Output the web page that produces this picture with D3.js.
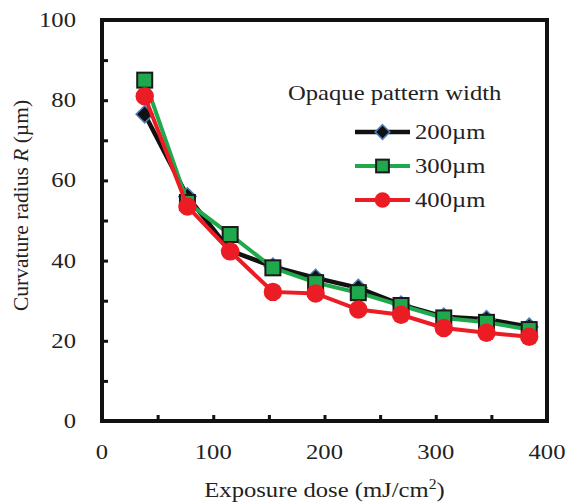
<!DOCTYPE html>
<html>
<head>
<meta charset="utf-8">
<script src="https://cdn.jsdelivr.net/npm/d3@7"></script>
<style>
  body { margin: 0; background: #fff; }
</style>
</head>
<body>
<div id="chart"></div>
<script>
// exposure dose (mJ/cm2)
const doses = [38.4, 76.8, 115.2, 153.6, 192, 230.4, 268.8, 307.2, 345.6, 384];
// curvature radius (um) per opaque pattern width
const r200 = [76.5, 56, 42.5, 38.5, 35.7, 33.2, 29, 26, 25.4, 23.5];
const r300 = [85, 54.5, 46.5, 38.2, 34.5, 32, 28.8, 25.7, 24.6, 22.8];
const r400 = [81, 53.5, 42.3, 32.2, 31.8, 27.8, 26.5, 23.2, 22, 21];
const seriesNames = ["200\u00b5m", "300\u00b5m", "400\u00b5m"];
const xTicks = [0, 100, 200, 300, 400];
const yTicks = [0, 20, 40, 60, 80, 100];

const FONT = "Liberation Serif, DejaVu Serif, serif";
const STRETCH = 1.12; // the original figure is a bit wider than tall
const FS = 22;

var margin = {top: 20, right: 30, bottom: 81, left: 102},
    width = 577 - margin.left - margin.right,
    height = 502 - margin.top - margin.bottom;

const svg = d3.select("#chart")
  .append("svg")
    .attr("width", 577)
    .attr("height", 502)
    .attr("font-family", FONT);

const g = svg.append("g")
  .attr("transform", `translate(${margin.left}, ${margin.top})`);

var x = d3.scaleLinear().domain([0, 400]).range([0, width]);
var y = d3.scaleLinear().domain([0, 100]).range([height, 0]);

// horizontal text, stretched a little like the source image
function label(parent, px, py, anchor, size) {
  return parent.append("text")
    .attr("transform", `translate(${px}, ${py}) scale(${STRETCH}, 1)`)
    .attr("text-anchor", anchor)
    .attr("font-family", FONT)
    .attr("fill", "#222")
    .style("font-size", size + "px");
}

// inward ticks, minor ones too
g.append("g")
  .attr("transform", `translate(0, ${height})`)
  .call(d3.axisBottom(x).tickValues(d3.range(0, 401, 50)).tickSize(-6).tickFormat(""))
  .call(a => a.select(".domain").remove())
  .selectAll("line").attr("stroke", "#111").attr("stroke-width", 3);

g.append("g")
  .call(d3.axisLeft(y).tickValues(d3.range(0, 101, 10)).tickSize(-6).tickFormat(""))
  .call(a => a.select(".domain").remove())
  .selectAll("line").attr("stroke", "#111").attr("stroke-width", 3);

// tick labels
xTicks.forEach(d => label(g, x(d), height + 38, "middle", FS).text(d));
yTicks.forEach(d => label(g, -26, y(d) + 7, "end", FS).text(d));

// frame
g.append("rect")
  .attr("width", width)
  .attr("height", height)
  .attr("fill", "none")
  .attr("stroke", "#111")
  .attr("stroke-width", 4);

// axis titles
label(g, width / 2, height + 76, "middle", FS)
  .html('Exposure dose (mJ/cm<tspan dy="-8" font-size="14px">2</tspan><tspan dy="8">)</tspan>');

g.append("text")
  .attr("transform", `translate(-74, ${height / 2 - 15}) rotate(-90)`)
  .attr("text-anchor", "middle")
  .attr("fill", "#222")
  .style("font-size", "21.5px")
  .html('Curvature radius <tspan font-style="italic">R</tspan> (\u00b5m)');

const line = d3.line()
  .x((d, i) => x(doses[i]))
  .y(d => y(d));

const styles = [
  {data: r200, color: "#111", lw: 4.5, marker: "diamond"},
  {data: r300, color: "#1fa84c", lw: 4, marker: "square"},
  {data: r400, color: "#ec1c24", lw: 4, marker: "circle"}
];

function drawMarker(sel, s, k) {
  if (s.marker == "diamond") {
    sel.append("path")
      .attr("d", d3.symbol(d3.symbolDiamond2, 190 * k * k)())
      .attr("fill", "#111")
      .attr("stroke", "#4f7fb8")
      .attr("stroke-width", 1.5);
  } else if (s.marker == "square") {
    sel.append("rect")
      .attr("x", -7.5 * k).attr("y", -7.5 * k)
      .attr("width", 15 * k).attr("height", 15 * k)
      .attr("fill", "#1fa84c")
      .attr("stroke", "#1a1a1a")
      .attr("stroke-width", 2);
  } else {
    sel.append("circle")
      .attr("r", 9.2 * k)
      .attr("fill", "#ec1c24");
  }
}

styles.forEach(s => {
  g.append("path")
    .datum(s.data)
    .attr("d", line)
    .attr("fill", "none")
    .attr("stroke", s.color)
    .attr("stroke-width", s.lw);
  g.selectAll(null)
    .data(s.data)
    .enter().append("g")
      .attr("transform", (d, i) => `translate(${x(doses[i])}, ${y(d)})`)
      .each(function() { drawMarker(d3.select(this), s, 1); });
});

// legend
const legend = svg.append("g").attr("transform", "translate(288, 0)");
label(legend, 0, 100, "start", FS).text("Opaque pattern width");

styles.forEach((s, i) => {
  const row = legend.append("g").attr("transform", `translate(0, ${132 + i * 34})`);
  row.append("line")
    .attr("x1", 67).attr("x2", 122)
    .attr("stroke", s.color)
    .attr("stroke-width", s.lw);
  drawMarker(row.append("g").attr("transform", "translate(94.5, 0)"), s, 0.85);
  label(row, 127, 7, "start", FS).text(seriesNames[i]);
});
</script>
</body>
</html>
